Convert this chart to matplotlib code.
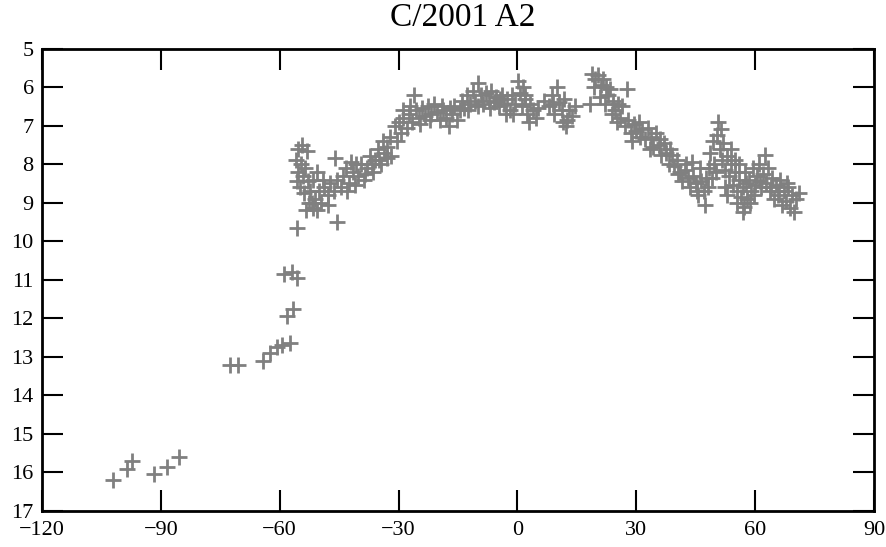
import matplotlib
matplotlib.use("Agg")
import matplotlib.pyplot as plt

plt.rcParams['font.family'] = ['Liberation Serif', 'DejaVu Serif']

title = 'C/2001 A2'

# sparse early points (date offset, magnitude)
early_x = [-102.0, -98.5, -97.3, -91.7, -88.5, -85.3,
           -72.5, -70.5, -64.1, -62.5, -60.8, -59.5, -57.4,
           -58.2, -56.6, -58.8, -56.9, -55.7, -55.7, -45.5]
early_y = [16.2, 15.9, 15.7, 16.05, 15.85, 15.6,
           13.2, 13.2, 13.1, 12.9, 12.75, 12.7, 12.65,
           11.95, 11.75, 10.85, 10.8, 10.95, 9.65, 9.5]

# dense part of the light curve
main_x = [-55.5, -54.3, -53.2, -55.8, -54.6, -55.3, -54.0, -55.6, -54.8, -53.5,
          -52.8, -53.9, -52.3, -51.5, -51.0, -52.5, -53.4, -51.7, -50.0, -49.5,
          -48.7, -47.8, -49.0, -47.2, -46.3, -45.5, -44.5, -44.0, -46.0, -43.2,
          -42.5, -41.5, -41.0, -40.2, -42.0, -39.5, -38.8, -38.0, -37.2, -36.5,
          -36.0, -35.2, -34.5, -33.8, -34.0, -33.0, -32.2, -31.8, -31.0, -30.5,
          -30.0, -29.4, -28.8, -28.0, -27.3, -26.6, -26.0, -25.5, -24.8, -24.0,
          -23.3, -22.5, -21.8, -21.0, -20.3, -19.5, -18.8, -18.0, -17.3, -16.6,
          -16.0, -15.3, -14.6, -14.0, -13.4, -12.7, -12.0, -11.3, -10.6, -9.9,
          -9.3, -8.6, -8.0, -7.3, -6.6, -6.0, -5.3, -4.6, -4.0, -3.3,
          -2.6, -2.0, -1.3, -0.6, 0.2, 0.6, 1.2, 1.8, 2.5, 3.2,
          3.9, 4.6, 5.2, 6.8, 8.0, 8.6, 9.3, 10.0, 10.5, 11.2,
          11.8, 12.4, 12.2, 13.0, 13.8, 14.5,
          -51.8, -47.8, -50.6, -50.5, -1.0, 1.5, 3.0, -3.0,
          18.3, 18.8, 19.6, 20.3, 21.0, 21.6, 22.3, 22.8, 23.4, 24.0,
          24.6, 25.3, 26.0, 26.5, 27.6, 27.2, 28.0, 28.6, 29.3, 30.0,
          30.8, 31.5, 32.2, 33.0, 33.6, 34.3, 35.0, 35.6, 36.3, 37.0,
          37.6, 38.3, 39.0, 39.6, 40.3, 41.0, 41.6, 42.3, 43.0, 43.6,
          44.3, 45.0, 45.6, 46.3, 47.0, 47.3, 47.6, 48.3, 48.6, 49.3,
          49.6, 50.3, 50.6, 51.0, 51.3, 51.6, 52.0, 52.3, 52.8, 53.3,
          53.8, 54.3, 54.8, 55.3, 55.8, 56.3, 56.9, 57.0, 57.5, 58.0,
          58.5, 59.0, 59.5, 60.0, 60.5, 61.0, 61.5, 62.0, 62.4, 62.8,
          63.3, 63.8, 64.3, 64.8, 65.3, 65.8, 66.3, 66.8, 67.3, 67.8,
          68.3, 68.8, 69.3, 69.8, 70.3, 71.0,
          50.0, 52.5, 54.0, 55.0, 56.0, 57.8, 58.8, 53.0, 55.5, 57.3,
          49.0, 48.0, 46.0, 44.0, 19.3, 20.8, 22.0, 23.8, 25.0,
          -43.0, -40.8, -38.5, -36.8, -35.0, -32.8, -29.0, -27.0, -24.5, -22.0,
          -19.0, -17.0, -12.5, -10.0, -7.0, -4.5, 2.0, 9.0, 11.5, 29.0,
          31.0, 33.5, 36.0, 38.5, 40.5, 42.5, 45.3, 59.7, 61.3, 64.0,
          66.0, 68.0]
main_y = [7.6, 7.5, 7.65, 7.9, 8.0, 8.2, 8.3, 8.45, 8.6, 8.1,
          8.45, 8.75, 8.7, 8.4, 8.9, 9.0, 9.2, 9.15, 8.7, 9.0,
          8.6, 8.8, 8.4, 8.5, 8.7, 8.4, 8.6, 8.3, 7.85, 8.1,
          8.5, 8.2, 8.55, 8.3, 7.95, 8.0, 8.4, 8.1, 7.8, 8.2,
          7.9, 7.6, 8.0, 7.7, 7.4, 7.55, 7.3, 7.8, 7.0, 7.4,
          6.9, 7.2, 6.8, 7.05, 6.7, 6.9, 6.2, 6.6, 6.8, 6.55,
          6.75, 6.5, 6.7, 6.45, 6.65, 6.85, 6.6, 6.8, 7.0, 6.7,
          6.5, 6.85, 6.6, 6.35, 6.55, 6.2, 6.45, 6.1, 6.35, 5.9,
          6.2, 6.45, 6.15, 6.35, 6.1, 6.4, 6.25, 6.5, 6.2, 6.45,
          6.3, 6.6, 6.2, 6.45, 5.85, 6.15, 6.5, 6.3, 6.7, 6.45,
          6.6, 6.8, 6.55, 6.35, 6.5, 6.2, 6.7, 6.0, 6.4, 6.6,
          6.3, 6.85, 7.0, 6.6, 6.75, 6.5,
          9.0, 9.05, 9.2, 8.2, 6.7, 6.0, 6.9, 6.7,
          6.45, 5.65, 5.8, 5.7, 5.95, 5.8, 6.0, 6.2, 6.05, 6.35,
          6.6, 6.45, 6.8, 6.5, 6.05, 7.0, 6.85, 7.2, 6.95, 7.15,
          6.9, 7.1, 7.35, 7.05, 7.3, 7.55, 7.2, 7.5, 7.75, 7.45,
          7.7, 8.0, 7.75, 8.05, 7.9, 8.2, 8.45, 8.15, 8.35, 8.6,
          8.3, 8.5, 8.8, 8.45, 8.7, 9.05, 8.35, 8.1, 7.7, 7.4,
          8.0, 7.25, 6.9, 7.6, 7.1, 7.9, 7.45, 8.15, 7.8, 8.3,
          8.0, 8.55, 8.2, 8.7, 8.4, 8.85, 9.25, 8.6, 8.2, 8.9,
          8.4, 8.7, 8.1, 8.55, 8.3, 8.0, 8.6, 8.25, 7.75, 8.5,
          8.1, 8.7, 8.35, 8.9, 8.55, 8.8, 8.4, 9.05, 8.7, 8.95,
          8.6, 9.15, 8.8, 9.25, 8.9, 8.75,
          8.2, 8.6, 7.6, 7.9, 8.0, 8.5, 9.0, 8.8, 9.0, 9.1,
          8.35, 8.6, 8.1, 7.95, 6.0, 6.25, 6.45, 6.7, 6.9,
          8.7, 8.0, 8.25, 8.0, 7.9, 7.85, 6.6, 6.5, 6.95, 6.85,
          6.5, 6.55, 6.6, 6.5, 6.55, 6.3, 6.2, 6.45, 6.9, 7.4,
          7.3, 7.6, 7.35, 7.6, 8.25, 8.0, 8.7, 8.8, 8.45, 8.6,
          8.7, 8.5]

x_ticks = [-120, -90, -60, -30, 0, 30, 60, 90]
y_ticks = [5, 6, 7, 8, 9, 10, 11, 12, 13, 14, 15, 16, 17]

fig = plt.figure(figsize=(8.86, 5.47), dpi=100)
ax = fig.add_axes([0.0474, 0.0658, 0.9391, 0.8455])

ax.plot(early_x + main_x, early_y + main_y, linestyle='none', marker='+',
        markersize=11, markeredgewidth=2.0, color='#808080')

ax.set_xlim(-120, 90)
ax.set_ylim(17, 5)
ax.set_xticks(x_ticks)
ax.set_xticklabels([str(t).replace('-', '\u2212') for t in x_ticks])
ax.set_yticks(y_ticks)
ax.tick_params(direction='in', length=15, width=1.5, labelsize=16,
               top=True, right=True, color='black')
ax.tick_params(axis='x', pad=7)
ax.tick_params(axis='y', pad=6)
for s in ax.spines.values():
    s.set_linewidth(2)

fig.text(0.5226, 0.967, title, ha='center', va='center', fontsize=24)

plt.savefig('out.png', dpi=100)
